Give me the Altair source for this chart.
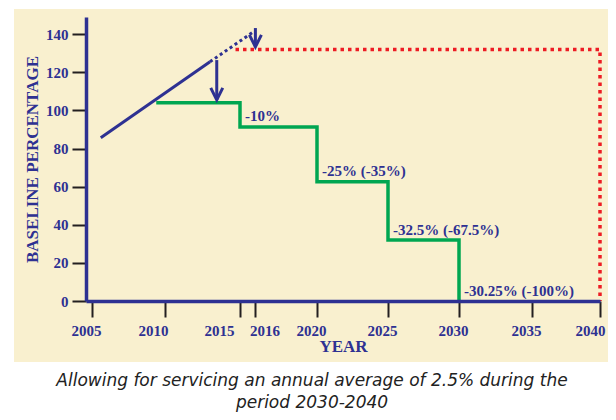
import altair as alt
import pandas as pd

# ---------------- data ----------------
year_ticks = [2005, 2010, 2015, 2016, 2020, 2025, 2030, 2035, 2040]
y_ticks = [0, 20, 40, 60, 80, 100, 120, 140]

trend_years = [2005.6, 2013.0]
trend_values = [85.7, 125.5]

proj_years = [2013.0, 2015.85]
proj_values = [125.5, 141.1]

target_years = [2009.4, 2015, 2020, 2025, 2030]
target_values = [104, 91.3, 62.6, 32, 0]

cap_years = [2014.7, 2040, 2040]
cap_values = [132, 132, 0]

arrow_years = [2013.45, 2016.0]
arrow_from = [126.4, 143.2]
arrow_to = [105.5, 133.3]

label_texts = ["-10%", "-25% (-35%)", "-32.5% (-67.5%)", "-30.25% (-100%)"]
label_years = [2015, 2020, 2025, 2030]
label_values = [97, 68, 37, 5]

caption = ["Allowing for servicing an annual average of 2.5% during the",
           "period 2030-2040"]

# ---------------- style ----------------
NAVY = "#2e3192"
GREEN = "#00a651"
RED = "#ed1c24"
CREAM = "#f9f0cf"
TICK = "#231f20"
SERIF = "Liberation Serif"

W, H = 520, 284

# hand-drawn (uneven) year spacing of the original -> piecewise scale
xscale = alt.Scale(domain=[2004.59, 2005, 2010, 2015, 2020, 2025, 2030, 2035, 2040],
                   range=[0, 6, 79, 154, 231, 302, 373, 446, 514], nice=False, zero=False)
yscale = alt.Scale(domain=[0, 149], nice=False, zero=True)

xaxis = alt.Axis(values=year_ticks, format="d", title="YEAR", grid=False, zindex=1,
                 domainColor=NAVY, domainWidth=3.5, tickColor=TICK, tickWidth=2,
                 tickSize=16, labelPadding=6, labelFont=SERIF, labelFontWeight="bold",
                 labelFontSize=15, labelColor=NAVY, labelOverlap=False, labelFlush=False,
                 labelBound=False,
                 labelAlign={"expr": "datum.value == 2015 ? 'right' : (datum.value == 2016 ? 'left' : 'center')"},
                 labelOffset={"expr": "datum.value == 2010 ? -12 : (datum.value == 2040 ? -10 : -6)"},
                 titleFont=SERIF, titleFontWeight="bold", titleFontSize=17, titleColor=NAVY,
                 titlePadding=0)
yaxis = alt.Axis(values=y_ticks, title="BASELINE PERCENTAGE", grid=False, zindex=1,
                 domainColor=NAVY, domainWidth=3.5, tickColor=TICK, tickWidth=2,
                 tickSize=14, labelPadding=4, labelFont=SERIF, labelFontWeight="bold",
                 labelFontSize=15, labelColor=NAVY,
                 titleFont=SERIF, titleFontWeight="bold", titleFontSize=17, titleColor=NAVY,
                 titlePadding=4)


def X(field="x"):
    return alt.X(f"{field}:Q", scale=xscale, axis=xaxis)


def Y(field="y"):
    return alt.Y(f"{field}:Q", scale=yscale, axis=yaxis)


bg = alt.Chart(alt.Data(values=[{"a": 1}])).mark_rect(color=CREAM, clip=False).encode(
    x=alt.value(-72), x2=alt.value(540), y=alt.value(-8), y2=alt.value(345))

trend_df = pd.DataFrame({"x": trend_years, "y": trend_values})
trend = alt.Chart(trend_df).mark_line(color=NAVY, strokeWidth=3).encode(x=X(), y=Y())

proj_df = pd.DataFrame({"x": proj_years, "y": proj_values})
proj = alt.Chart(proj_df).mark_line(color=NAVY, strokeWidth=3, strokeDash=[3, 3]).encode(x=X(), y=Y())

cap_df = pd.DataFrame({"x": cap_years, "y": cap_values, "o": list(range(len(cap_years)))})
cap = alt.Chart(cap_df).mark_line(color=RED, strokeWidth=3.5, strokeDash=[3.5, 4]).encode(
    x=X(), y=Y(), order="o:Q")

target_df = pd.DataFrame({"x": target_years, "y": target_values})
target = alt.Chart(target_df).mark_line(color=GREEN, strokeWidth=3.5, interpolate="step-after").encode(
    x=X(), y=Y())

arrow_df = pd.DataFrame({"x": arrow_years, "y": arrow_from, "y2": arrow_to})
shaft = alt.Chart(arrow_df).mark_rule(color=NAVY, strokeWidth=3).encode(x=X(), y=Y(), y2="y2:Q")
head = alt.Chart(arrow_df).mark_point(shape="M-1,-2L0,0L1,-2", filled=False, color=NAVY,
                                      strokeWidth=3, size=144, opacity=1).encode(x=X(), y=Y("y2"))

lab_df = pd.DataFrame({"x": label_years, "y": label_values, "t": label_texts})
labels = alt.Chart(lab_df).mark_text(align="left", baseline="middle", dx=5, font=SERIF,
                                     fontWeight="bold", fontSize=15, color=NAVY).encode(
    x=X(), y=Y(), text="t:N")

chart = alt.layer(bg, cap, trend, proj, target, shaft, head, labels).properties(
    width=W, height=H,
    autosize=alt.AutoSizeParams(type="none"),
    padding={"left": 78, "top": 9, "right": 2, "bottom": 111},
    background="white",
    title=alt.TitleParams(text=caption, orient="bottom", frame="group", anchor="middle",
                          offset=11, dx=-34, font="DejaVu Sans", fontStyle="italic",
                          fontWeight="normal", fontSize=17, color="#222222", lineHeight=22,
                          baseline="top"),
).configure_view(stroke=None)

chart.save("out.html", embed_options={"renderer": "svg", "actions": False})
